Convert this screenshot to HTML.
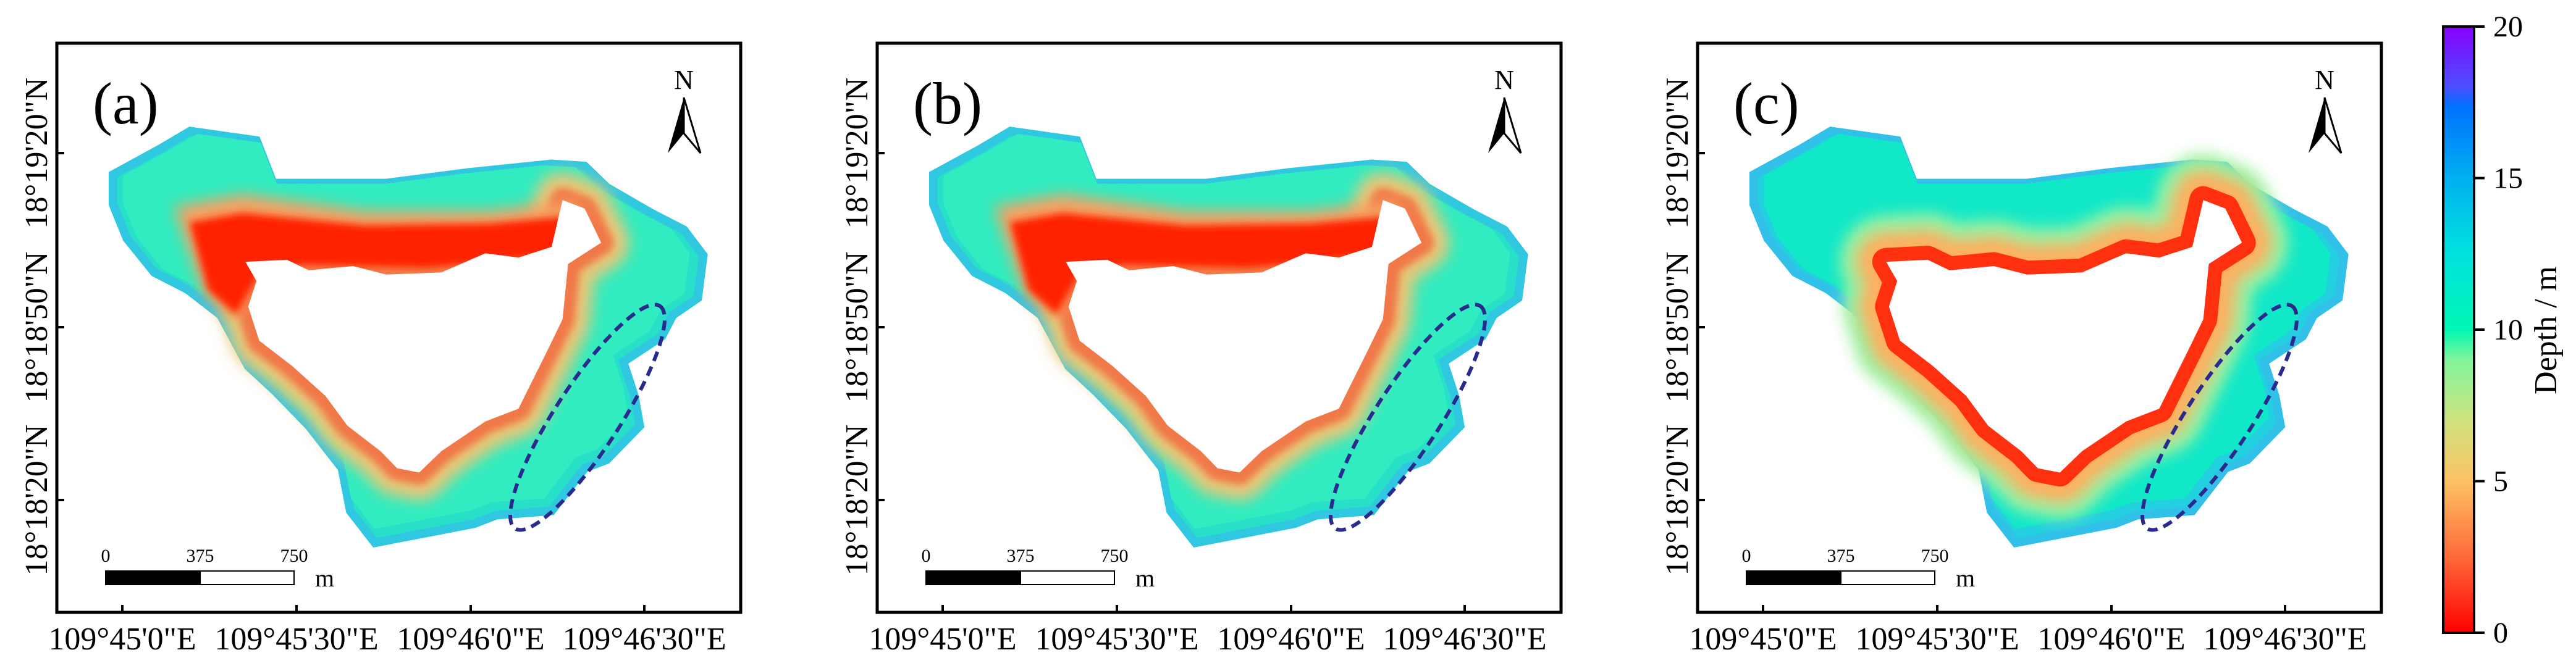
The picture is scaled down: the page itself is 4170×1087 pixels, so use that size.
<!DOCTYPE html>
<html><head><meta charset="utf-8">
<style>
html,body{margin:0;padding:0;background:#fff;}
svg text{font-family:"Liberation Serif",serif;fill:#000;}
</style></head>
<body>
<svg id="fig" width="4170" height="1082" viewBox="0 0 4170 1082" xmlns="http://www.w3.org/2000/svg">
<defs>
<linearGradient id="cbar" x1="0" y1="1" x2="0" y2="0">
<stop offset="0" stop-color="#ff0000"/>
<stop offset="0.125" stop-color="#ff6a3a"/>
<stop offset="0.25" stop-color="#fdc264"/>
<stop offset="0.35" stop-color="#cfe27e"/>
<stop offset="0.45" stop-color="#82f59c"/>
<stop offset="0.5" stop-color="#00f7b4"/>
<stop offset="0.625" stop-color="#00e2de"/>
<stop offset="0.75" stop-color="#00b0f0"/>
<stop offset="0.87" stop-color="#0070ff"/>
<stop offset="0.9" stop-color="#4a50ff"/>
<stop offset="1" stop-color="#8a00ff"/>
</linearGradient>
<filter id="blur6" x="-50%" y="-50%" width="200%" height="200%"><feGaussianBlur stdDeviation="6"/></filter>
<filter id="blur12" x="-50%" y="-50%" width="200%" height="200%"><feGaussianBlur stdDeviation="12"/></filter>
</defs>
<g id="panels"></g>
<g>
<rect x="3955" y="43" width="50" height="982" fill="url(#cbar)" stroke="#000" stroke-width="4"/>
<g id="cbticks"></g>
<text transform="translate(4138,535) rotate(-90)" text-anchor="middle" font-size="52">Depth / m</text>
</g>
<script>
var cbTicks=[0,5,10,15,20];
var xTickLabels=["109°45'0\"E","109°45'30\"E","109°46'0\"E","109°46'30\"E"];
var yTickLabels=["18°19'20\"N","18°18'50\"N","18°18'20\"N"];
var panelLabels=["(a)","(b)","(c)"];
var panelX=[92,1420,2748];
var NS="http://www.w3.org/2000/svg";
function mk(t,a,p){var e=document.createElementNS(NS,t);for(var k in a)e.setAttribute(k,a[k]);if(p)p.appendChild(e);return e;}
function cbY(v){return 1025-(v/20)*982;}
var cbg=document.getElementById('cbticks');
cbTicks.forEach(function(v){
  var l=mk('line',{x1:4005,x2:4022,y1:cbY(v),y2:cbY(v),stroke:'#000','stroke-width':4},cbg);
  
  
  var t=mk('text',{x:4036,y:cbY(v)+16,'font-size':48},cbg);t.textContent=v;
  
  
});
var outerZ=[[205,410],[290,350],[345,308],[465,330],[495,430],[700,430],[850,405],[1000,385],[1060,390],[1100,440],[1180,500],[1240,540],[1275,600],[1265,700],[1220,740],[1200,790],[1130,850],[1150,930],[1160,1000],[1100,1080],[1060,1100],[1000,1200],[900,1210],[860,1230],[780,1250],[680,1275],[635,1200],[620,1100],[560,1000],[500,920],[450,860],[400,740],[340,680],[280,640],[230,560],[205,480]];
var innerZ=[[445,615],[520,610],[560,635],[640,625],[700,645],[800,640],[880,595],[940,605],[1000,580],[1020,470],[1060,490],[1090,570],[1030,620],[1020,750],[990,830],[940,960],[880,990],[800,1060],[760,1110],[720,1100],[690,1060],[630,1000],[590,930],[530,860],[470,800],[450,720],[465,660]];
function conv(arr){return arr.map(function(p){return (p[0]/1.12-92).toFixed(1)+','+(p[1]/1.45-70).toFixed(1);}).join(' ');}
var outerP=conv(outerZ), innerP=conv(innerZ);
var panels=document.getElementById('panels');
var xt=[106,388,670,951], yt=[178,460,740];
for(var i=0;i<3;i++){
  var g=mk('g',{transform:'translate('+panelX[i]+',70)'},panels);
  
  
  var c=(i==2);
  var isl=mk('g',{},g);
  
  
  mk('polygon',{points:outerP,fill:c?'#22d0e0':'#28e0c8',stroke:c?'#30c0e8':'#30c8e0','stroke-width':14},isl);
  mk('polygon',{points:outerP,fill:c?'#10e8c8':'#30ecc0',transform:'translate(20,10) scale(0.96)'},isl);
  if(c){
    mk('polygon',{points:innerP,fill:'none',stroke:'#9ef0a0','stroke-width':150,'stroke-linejoin':'round',filter:'url(#blur12)'},isl);
    mk('polygon',{points:innerP,fill:'none',stroke:'#fdb060','stroke-width':95,'stroke-linejoin':'round',filter:'url(#blur12)'},isl);
    mk('polygon',{points:innerP,fill:'none',stroke:'#ff3010','stroke-width':45,'stroke-linejoin':'round'},isl);
  } else {
    mk('polygon',{points:innerP,fill:'none',stroke:'#e8c878','stroke-width':90,'stroke-linejoin':'round',filter:'url(#blur12)'},isl);
    mk('polygon',{points:innerP,fill:'none',stroke:'#f07848','stroke-width':40,'stroke-linejoin':'round',filter:'url(#blur6)'},isl);
    mk('polygon',{points:'190,265 300,245 500,272 700,272 840,255 860,300 800,345 600,365 400,360 330,370 290,450 240,410',fill:'#f8a060',filter:'url(#blur12)'},isl);
    mk('polygon',{points:'215,290 300,275 500,295 700,292 835,280 850,310 800,345 600,365 400,360 330,370 290,440 245,400',fill:'#ff2200',filter:'url(#blur6)'},isl);
  }
  mk('polygon',{points:innerP,fill:'#fff'},isl);
  var fr=mk('rect',{x:0,y:0,width:1107,height:922,fill:'none',stroke:'#000','stroke-width':5},g);
  
  
  xTickLabels.forEach(function(s,j){
    var l=mk('line',{x1:xt[j],x2:xt[j],y1:922,y2:910,stroke:'#000','stroke-width':4},g);
    
    
    var t=mk('text',{x:xt[j],y:982,'font-size':52,'text-anchor':'middle'},g);t.textContent=s;
    
    
  });
  yTickLabels.forEach(function(s,j){
    var l=mk('line',{x1:0,x2:12,y1:yt[j],y2:yt[j],stroke:'#000','stroke-width':4},g);
    
    
    var t=mk('text',{transform:'translate(-16,'+yt[j]+') rotate(-90)','font-size':52,'text-anchor':'middle'},g);t.textContent=s;
    
    
  });
  var pl=mk('text',{x:58,y:130,'font-size':96},g);pl.textContent=panelLabels[i];
  
  
  var na=mk('g',{},g);
  
  
  var nt=mk('text',{x:1015,y:74,'font-size':44,'text-anchor':'middle','font-family':'Liberation Sans'},na);nt.textContent='N';
  mk('polygon',{points:'1015,88 989,178 1015,146',fill:'#000'},na);
  mk('polygon',{points:'1015,88 1042,178 1015,146',fill:'#fff',stroke:'#000','stroke-width':3},na);
  var sb=mk('g',{},g);
  
  
  mk('rect',{x:79,y:855,width:153,height:22,fill:'#000',stroke:'#000','stroke-width':2},sb);
  mk('rect',{x:232,y:855,width:152,height:22,fill:'#fff',stroke:'#000','stroke-width':2},sb);
  [[79,'0'],[232,'375'],[384,'750']].forEach(function(p){var t=mk('text',{x:p[0],y:840,'font-size':30,'text-anchor':'middle'},sb);t.textContent=p[1];});
  var mt=mk('text',{x:418,y:880,'font-size':40},sb);mt.textContent='m';
  var el=mk('ellipse',{cx:c?845:859,cy:606,rx:215,ry:52,fill:'none',stroke:'#2a2a8c','stroke-width':6,'stroke-dasharray':'16,10',transform:'rotate(-57 '+(c?845:859)+' 606)'},g);
  
  
}
</script>
</svg>
</body></html>
